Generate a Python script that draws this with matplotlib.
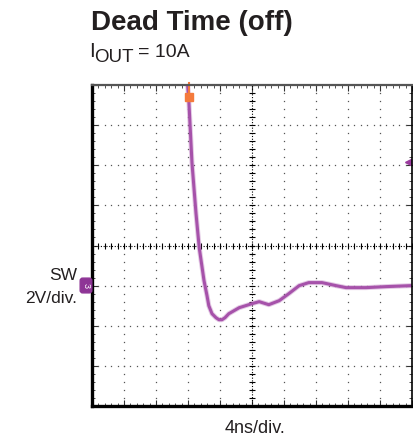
"""
	Scope capture: SW node dead time (off), IOUT = 10A.
"""

import numpy as np
import matplotlib.pyplot as plt
from matplotlib.patches import FancyBboxPatch

plt.rcParams['font.family'] = ['Liberation Sans', 'DejaVu Sans']

# trace, time in ns, SW in volts (0 V at marker "3")
time_ns = [11.85, 12.1, 12.5, 13.0, 13.4, 14.0, 14.375, 14.6, 15.0, 15.5, 15.875, 16.25, 16.625,
           17.1, 18.4, 20.0, 20.9, 22.1, 23.4, 24.6, 25.9, 27.1, 28.75, 30.5, 31.75, 34.25,
           36.75, 39.9]
sw_volts = [10.5, 9.25, 6.1, 3.6, 1.9, 0.25, -0.5, -1.0, -1.4, -1.6, -1.7, -1.7, -1.6,
            -1.4, -1.1, -0.9, -0.8, -0.95, -0.75, -0.4, 0.0, 0.15, 0.15, 0.0, -0.1, -0.1,
            -0.05, 0.0]

ns_per_div = 4
v_per_div = 2
n_xdiv = 10
n_ydiv = 8
ground_div = 3   # marker position in divisions from bottom
trigger_ns = 12.1

W, H = 414, 437
fig = plt.figure(figsize=(W / 100, H / 100), dpi=100)
ax = fig.add_axes([92 / W, 1 - 406 / H, 320 / W, 321 / H])

xmin, xmax = 0, n_xdiv * ns_per_div
ymin = -ground_div * v_per_div
ymax = ymin + n_ydiv * v_per_div
ax.set_xlim(xmin, xmax)
ax.set_ylim(ymin, ymax)

# dotted graticule
dot_x = np.arange(xmin, xmax + 0.01, ns_per_div / 5)
dot_y = np.arange(ymin, ymax + 0.01, v_per_div / 5)
cx = xmin + ns_per_div * n_xdiv / 2
cy = ymin + v_per_div * n_ydiv / 2
for i in range(1, n_xdiv):
    x = xmin + i * ns_per_div
    if x == cx:
        continue
    ax.plot(np.full(len(dot_y), x), dot_y, ls='none', marker='s', ms=0.9, color='#555555', mew=0)
for j in range(1, n_ydiv):
    y = ymin + j * v_per_div
    if y == cy:
        continue
    ax.plot(dot_x, np.full(len(dot_x), y), ls='none', marker='s', ms=0.9, color='#555555', mew=0)

# centre crosshair with ticks
ax.axvline(cx, ls=(0, (1, 1.5)), lw=0.8, color='black')
ax.axhline(cy, ls=(0, (1, 1.5)), lw=0.8, color='black')
ax.plot(np.full(len(dot_y), cx), dot_y, ls='none', marker='_', ms=5, mew=0.8, color='black')
ax.plot(dot_x, np.full(len(dot_x), cy), ls='none', marker='|', ms=5, mew=0.8, color='black')

# trace
purple = '#a652aa'
ax.plot(time_ns, sw_volts, color=purple, lw=3.6, alpha=0.3, solid_capstyle='round', solid_joinstyle='round')
ax.plot(time_ns, sw_volts, color=purple, lw=2.2, solid_capstyle='round', solid_joinstyle='round')

# trigger marker (top) and level marker (right)
ax.plot([trigger_ns], [ymax - 0.6], marker='s', ms=6, color='#f47a3c', clip_on=False, zorder=5)
ax.plot([trigger_ns, trigger_ns], [ymax - 0.6, ymax + 0.1], color='#f47a3c', lw=1.5, clip_on=False, zorder=5)
ax.plot([xmax - 0.5], [6.15], marker='<', ms=4, color='#9b3c9e', clip_on=False, zorder=5)

# channel marker on the left (box 12x15 px just outside the left spine)
box = FancyBboxPatch((81 / W, 1 - 292 / H), 10 / W, 13 / H,
                     boxstyle='round,pad=0.002,rounding_size=0.006',
                     transform=fig.transFigure, fc='#8e3596', ec='#8e3596', zorder=7)
fig.patches.append(box)
fig.text(86 / W, 1 - 285.5 / H, '3', fontsize=6.5, color='white', rotation=-90,
         ha='center', va='center', zorder=8)

ax.set_xticks(np.arange(xmin, xmax + 0.01, ns_per_div))
ax.set_yticks(np.arange(ymin, ymax + 0.01, v_per_div))
ax.set_xticks(dot_x, minor=True)
ax.set_yticks(dot_y, minor=True)
ax.tick_params(which='both', direction='in', top=True, right=True,
               labelbottom=False, labelleft=False, color='#333333')
ax.tick_params(which='major', length=4, width=0.8)
ax.tick_params(which='minor', length=2.5, width=0.6)

ax.spines['left'].set_linewidth(2.4)
ax.spines['bottom'].set_linewidth(2.4)
ax.spines['top'].set_linewidth(1.6)
ax.spines['top'].set_color('#555555')
ax.spines['right'].set_linewidth(1.2)
for s in ax.spines.values():
    s.set_zorder(6)

# texts
ink = '#231f20'
fig.text(91 / W, 1 - 30 / H, 'Dead Time (off)', fontsize=20, fontweight='bold',
         ha='left', va='baseline', color=ink)
fig.text(89 / W, 1 - 57 / H, 'I', fontsize=15, ha='left', va='baseline', color=ink)
fig.text(94 / W, 1 - 62 / H, 'OUT', fontsize=13.5, ha='left', va='baseline', color=ink)
fig.text(138 / W, 1 - 57 / H, '= 10A', fontsize=14, ha='left', va='baseline', color=ink)

fig.text(77 / W, 1 - 280 / H, 'SW', fontsize=12.5, ha='right', va='baseline', color=ink)
fig.text(77 / W, 1 - 303 / H, '2V/div.', fontsize=12.5, ha='right', va='baseline', color=ink)
fig.text(225 / W, 1 - 433 / H, '4ns/div.', fontsize=13, ha='left', va='baseline', color=ink)

plt.savefig('out.png', dpi=100)
